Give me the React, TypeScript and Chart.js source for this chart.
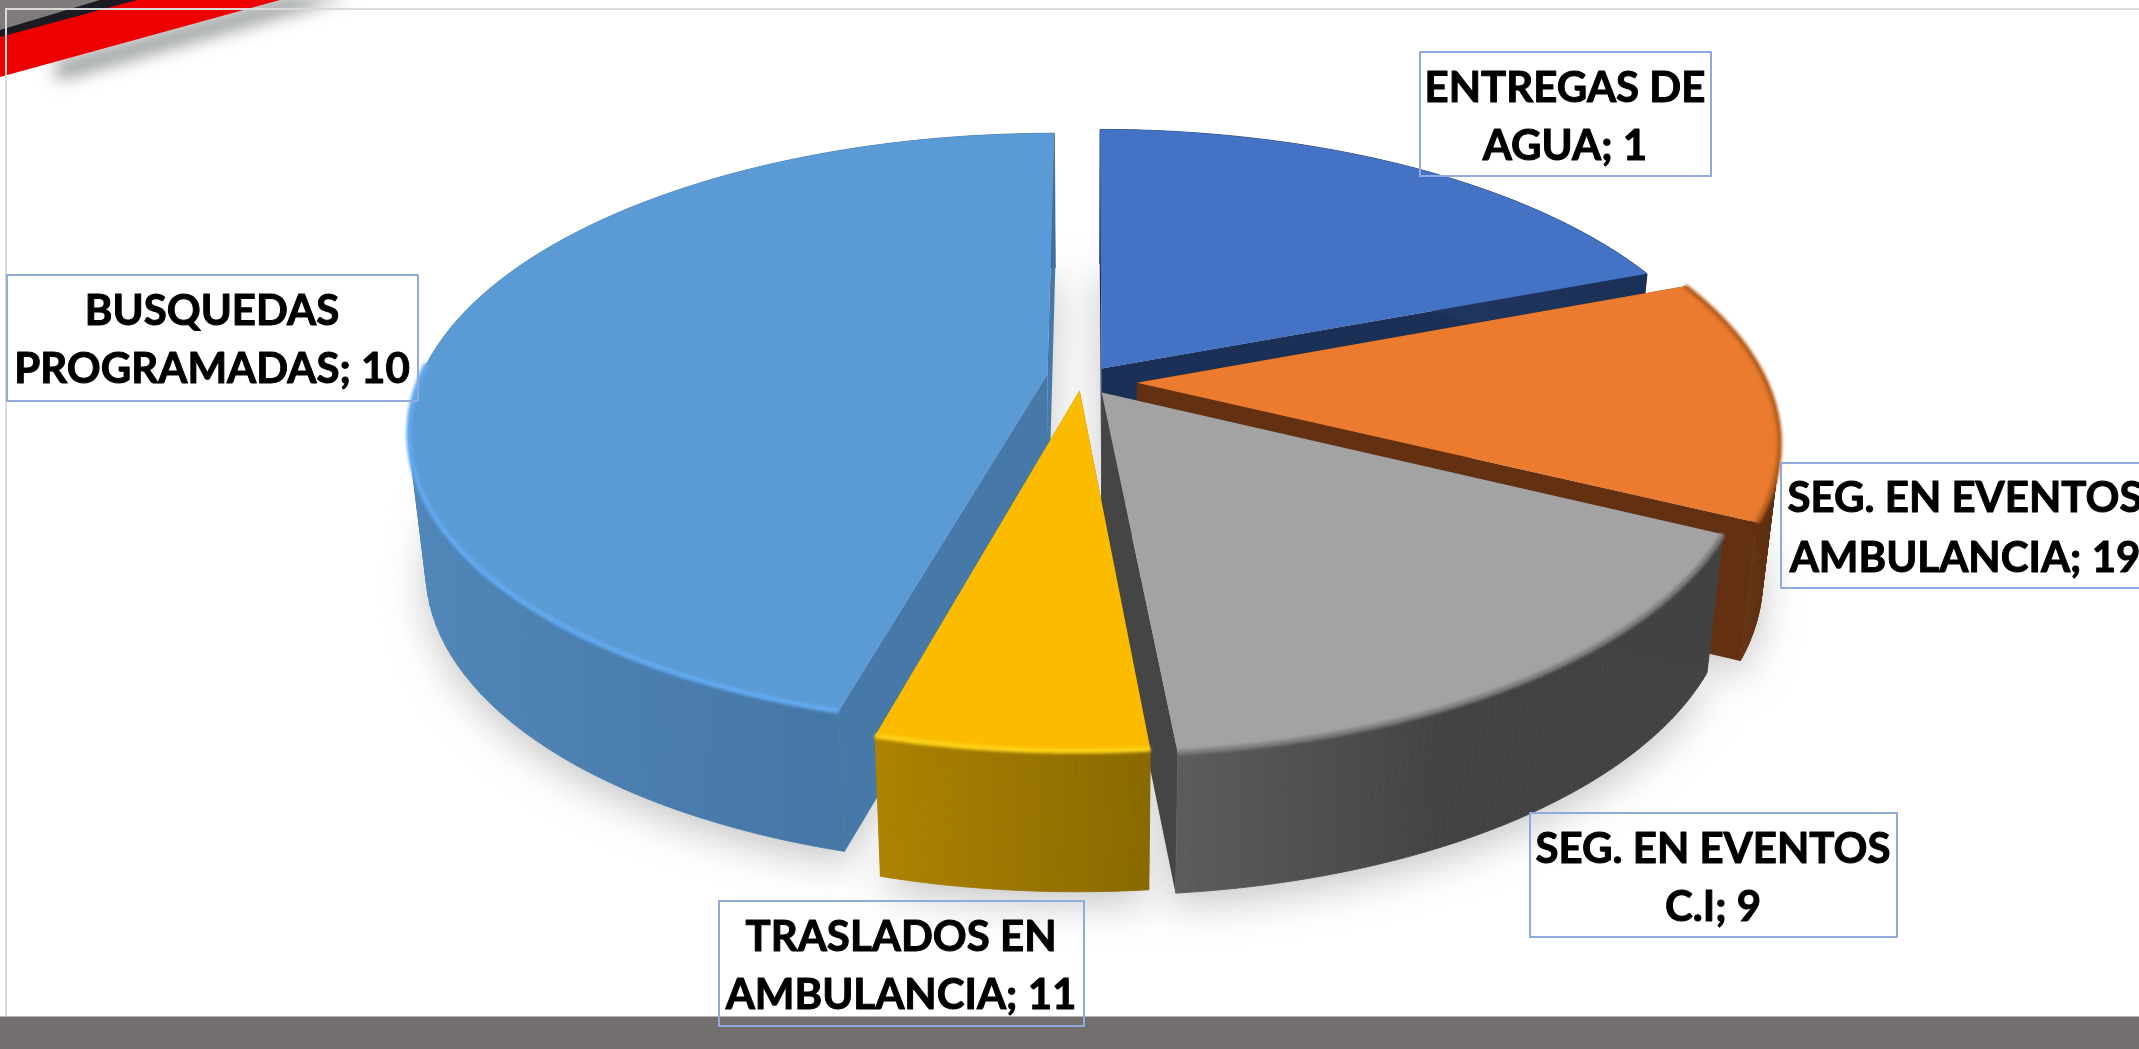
import React, { useEffect, useRef } from "react";
import { Chart, registerables } from "chart.js";

Chart.register(...registerables);

// ---- data ----
const categories = [
  "ENTREGAS DE AGUA",
  "SEG. EN EVENTOS AMBULANCIA",
  "SEG. EN EVENTOS C.I",
  "TRASLADOS EN AMBULANCIA",
  "BUSQUEDAS PROGRAMADAS",
];
// size of each slice as drawn (share of the pie, %)
const sliceShares = [19.2, 13.1, 16.2, 5.7, 45.8];
// the numbers the labels print (they differ from the drawn shares in the source)
const labelValues = [1, 19, 9, 11, 10];
const labelLines = [
  ["ENTREGAS DE", "AGUA"],
  ["SEG. EN EVENTOS", "AMBULANCIA"],
  ["SEG. EN EVENTOS", "C.I"],
  ["TRASLADOS EN", "AMBULANCIA"],
  ["BUSQUEDAS", "PROGRAMADAS"],
];
const explosion = [0.05, 0.073, 0.04, 0.034, 0.075];
const explodeDeg = [20, 92, 155, 212, 292];

// ---- styles ----
const topColors = ["#4472C4", "#EA7B2F", "#A3A3A3", "#FBBC00", "#5B9BD5"];
const wallColors = ["#1B3056", "#633112", "#454545", "#8F6D00", "#4679A8"];
const sideLeft = ["#24406F", "#6A3614", "#5C5C5C", "#AD8300", "#5086B8"];
const sideRight = ["#1B3056", "#5C2E10", "#424242", "#886800", "#3F6F9E"];
const sideStop = [1, 1, 0.5, 1, 1];
const rimColors = ["#4472C4", "#B9601F", "#7E7E7E", "#FFD21A", "#62AAF0"];
const rimCos = [0.05, 0.4, 0.05, 0.05, 0.05];
const drawOrder = [0, 1, 2, 4, 3];
const labelBoxes = [
  { l: 1420, t: 52, r: 1711, b: 176, cx: 1565, b1: 102, b2: 160 },
  { l: 1781, t: 463, r: 2150, b: 588, cx: 1965, b1: 512, b2: 572 },
  { l: 1530, t: 813, r: 1897, b: 937, cx: 1713, b1: 863, b2: 921 },
  { l: 719, t: 901, r: 1084, b: 1026, cx: 901, b1: 951, b2: 1009 },
  { l: 7, t: 275, r: 418, b: 401, cx: 212, b1: 325, b2: 383 },
];

const H_RADIUS = 629;
const V_RADIUS = 289;
const PERSPECTIVE = 0.189;
const DEPTH = 137;
const DEPTH_SCALE_X = 0.975;
const DEPTH_SCALE_Y = 1.01;
const OFFSET_UNIT = 330;
const FONT = 'bold 42px Lato, "Open Sans", sans-serif';

const pie3d = {
  id: "pie3d",
  beforeDraw(chart: any) {
    const { ctx, width, height } = chart;
    ctx.save();
    ctx.fillStyle = "#fff";
    ctx.fillRect(0, 0, width, height);
    // top-left ribbon shadow
    ctx.save();
    ctx.filter = "blur(9px)";
    ctx.fillStyle = "#8f9393";
    ctx.beginPath();
    ctx.moveTo(56, 62);
    ctx.lineTo(290, -4);
    ctx.lineTo(350, -4);
    ctx.lineTo(56, 80);
    ctx.closePath();
    ctx.fill();
    ctx.restore();
    // ribbon
    ctx.fillStyle = "#7f7b7b";
    ctx.beginPath();
    ctx.moveTo(0, 0);
    ctx.lineTo(110, 0);
    ctx.lineTo(0, 32);
    ctx.closePath();
    ctx.fill();
    ctx.fillStyle = "#1c1a22";
    ctx.beginPath();
    ctx.moveTo(0, 30);
    ctx.lineTo(100, 0);
    ctx.lineTo(140, 0);
    ctx.lineTo(0, 39);
    ctx.closePath();
    ctx.fill();
    ctx.fillStyle = "#ee0000";
    ctx.beginPath();
    ctx.moveTo(0, 37);
    ctx.lineTo(137, 0);
    ctx.lineTo(280, 0);
    ctx.lineTo(0, 77);
    ctx.closePath();
    ctx.fill();
    // frame
    ctx.fillStyle = "#d9d9d9";
    ctx.fillRect(5, 8, width - 5, 2);
    ctx.fillRect(5, 8, 2, height - 8);
    // bottom band
    ctx.fillStyle = "#736f6f";
    ctx.fillRect(0, 1017, width, height - 1017);
    ctx.fillStyle = "#b5b3b3";
    ctx.fillRect(0, 1016, width, 1);
    ctx.restore();
  },
  beforeDatasetsDraw(chart: any) {
    const { ctx } = chart;
    const arcs = chart.getDatasetMeta(0).data;
    const cx = arcs[0].x;
    const cy = arcs[0].y;

    const project = (i: number, theta: number, r: number) => {
      const dir = (explodeDeg[i] * Math.PI) / 180;
      const off = arcs[i].options.offset / OFFSET_UNIT;
      const X = off * Math.sin(dir) + r * Math.sin(theta);
      const Y = -off * Math.cos(dir) - r * Math.cos(theta);
      const s = 1 / (1 - PERSPECTIVE * Y);
      return { x: cx + H_RADIUS * X * s, y: cy + V_RADIUS * Y * s };
    };
    const lower = (p: { x: number; y: number }) => ({
      x: cx + (p.x - cx) * DEPTH_SCALE_X,
      y: cy + (p.y - cy) * DEPTH_SCALE_Y + DEPTH,
    });
    const arcPoints = (i: number, from: number, to: number) => {
      const pts = [];
      const n = 90;
      for (let k = 0; k <= n; k++) pts.push(project(i, from + ((to - from) * k) / n, 1));
      return pts;
    };
    const trace = (pts: { x: number; y: number }[]) => {
      ctx.beginPath();
      pts.forEach((p, k) => (k ? ctx.lineTo(p.x, p.y) : ctx.moveTo(p.x, p.y)));
      ctx.closePath();
    };

    // soft ground shadow
    ctx.save();
    ctx.filter = "blur(20px)";
    ctx.fillStyle = "#c6c6c6";
    arcs.forEach((a: any, i: number) => {
      const from = a.startAngle + Math.PI / 2;
      const to = a.endAngle + Math.PI / 2;
      const apex = lower(project(i, from, 0));
      const pts = [apex, ...arcPoints(i, from, to).map(lower)].map((p) => ({ x: p.x, y: p.y + 12 }));
      trace(pts);
      ctx.fill();
    });
    ctx.restore();

    drawOrder.forEach((i) => {
      const a = arcs[i];
      const from = a.startAngle + Math.PI / 2;
      const to = a.endAngle + Math.PI / 2;
      const apex = project(i, from, 0);
      const rim = arcPoints(i, from, to);
      const rimLow = rim.map(lower);

      // radial cut faces
      ctx.fillStyle = wallColors[i];
      [rim[0], rim[rim.length - 1]].forEach((corner) => {
        trace([apex, corner, lower(corner), lower(apex)]);
        ctx.fill();
      });

      // outer wall, quad by quad so it stays solid where it folds round the pie's sides
      const xs = rim.map((p) => p.x);
      const grad = ctx.createLinearGradient(Math.min(...xs), 0, Math.max(...xs), 0);
      grad.addColorStop(0, sideLeft[i]);
      grad.addColorStop(sideStop[i], sideRight[i]);
      grad.addColorStop(1, sideRight[i]);
      ctx.fillStyle = grad;
      ctx.strokeStyle = grad;
      ctx.lineWidth = 0.8;
      for (let k = 0; k < rim.length - 1; k++) {
        trace([rim[k], rim[k + 1], rimLow[k + 1], rimLow[k]]);
        ctx.fill();
        ctx.stroke();
      }

      // top face
      ctx.fillStyle = topColors[i];
      trace([apex, ...rim]);
      ctx.fill();

      // bevel along the visible part of the rim
      ctx.save();
      ctx.filter = "blur(1.5px)";
      ctx.strokeStyle = rimColors[i];
      ctx.lineWidth = 5;
      ctx.beginPath();
      let started = false;
      rim.forEach((p, k) => {
        const theta = from + ((to - from) * k) / (rim.length - 1);
        if (Math.cos(theta) > rimCos[i]) return;
        if (started) ctx.lineTo(p.x, p.y);
        else ctx.moveTo(p.x, p.y);
        started = true;
      });
      ctx.stroke();
      ctx.restore();
    });

    // data labels
    ctx.save();
    ctx.font = FONT;
    ctx.textAlign = "center";
    ctx.textBaseline = "alphabetic";
    ctx.lineJoin = "round";
    labelBoxes.forEach((b, i) => {
      ctx.strokeStyle = "#8FAADC";
      ctx.lineWidth = 2;
      ctx.strokeRect(b.l, b.t, b.r - b.l, b.b - b.t);
      ctx.fillStyle = "#000";
      ctx.strokeStyle = "#000";
      ctx.lineWidth = 1;
      const second = `${labelLines[i][1]}; ${labelValues[i]}`;
      ctx.fillText(labelLines[i][0], b.cx, b.b1);
      ctx.strokeText(labelLines[i][0], b.cx, b.b1);
      ctx.fillText(second, b.cx, b.b2);
      ctx.strokeText(second, b.cx, b.b2);
    });
    ctx.restore();
    return false;
  },
};

export default function App() {
  const ref = useRef<HTMLCanvasElement>(null);
  useEffect(() => {
    const chart = new Chart(ref.current as HTMLCanvasElement, {
      type: "pie",
      data: {
        labels: categories,
        datasets: [
          {
            data: sliceShares,
            backgroundColor: topColors,
            borderWidth: 0,
            offset: explosion.map((e) => e * OFFSET_UNIT),
          },
        ],
      },
      options: {
        responsive: false,
        animation: false,
        layout: { padding: { left: 43, bottom: 285 } },
        plugins: { legend: { display: false }, tooltip: { enabled: false }, title: { display: false } },
      },
      plugins: [pie3d],
    } as any);
    return () => chart.destroy();
  }, []);
  return (
    <div style={{ position: "fixed", left: 0, top: 0, width: 2139, height: 1049, background: "#fff", overflow: "hidden" }}>
      <canvas ref={ref} width={2139} height={1049} style={{ display: "block" }} />
    </div>
  );
}
